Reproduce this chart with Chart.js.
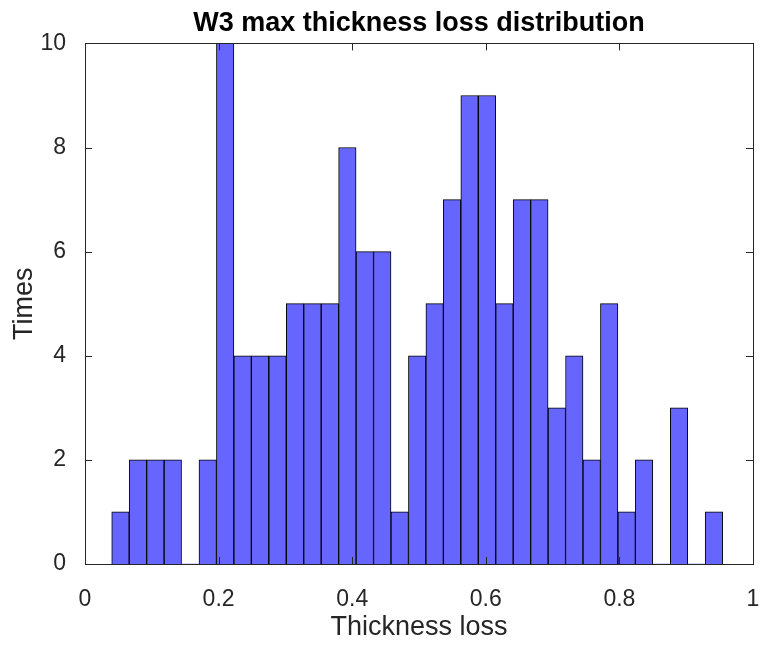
<!DOCTYPE html>
<html>
<head>
<meta charset="utf-8">
<script src="https://cdn.jsdelivr.net/npm/chart.js@4"></script>
<style>
  html, body { margin: 0; padding: 0; background: #fff; }
</style>
</head>
<body>
<canvas id="hist-chart" width="763" height="646"></canvas>
<script>
// histogram: 35 equal bins, counts
const binStart = 0.040;
const binWidth = 0.02613;
const binCounts = [1, 2, 2, 2, 0, 2, 10, 4, 4, 4, 5, 5, 5, 8, 6, 6, 1, 4, 5, 7, 9, 9, 5, 7, 7, 3, 4, 2, 5, 1, 2, 0, 3, 0, 1];
const xTicks = [0, 0.2, 0.4, 0.6, 0.8, 1];
const yTicks = [0, 2, 4, 6, 8, 10];

const axisColor = '#262626';

/**
 * Box round the axes plus MATLAB-style inward ticks on all four sides
 */
const matlabBox = {
    id: 'matlabBox',
    afterDatasetsDraw(chart) {
        const { ctx, chartArea: a, scales } = chart;
        const len = 7;
        ctx.save();
        ctx.strokeStyle = axisColor;
        ctx.lineWidth = 1;
        ctx.beginPath();
        xTicks.forEach((v) => {
            const px = Math.round(scales.x.getPixelForValue(v)) + 0.5;
            ctx.moveTo(px, a.bottom); ctx.lineTo(px, a.bottom - len);
            ctx.moveTo(px, a.top); ctx.lineTo(px, a.top + len);
        });
        yTicks.forEach((v) => {
            const py = Math.round(scales.y.getPixelForValue(v)) + 0.5;
            ctx.moveTo(a.left, py); ctx.lineTo(a.left + len, py);
            ctx.moveTo(a.right, py); ctx.lineTo(a.right - len, py);
        });
        ctx.stroke();
        ctx.strokeRect(Math.round(a.left) + 0.5, Math.round(a.top) + 0.5,
            Math.round(a.right - a.left), Math.round(a.bottom - a.top));
        ctx.restore();
    }
};

const data = {
    datasets: [{
        label: 'Times',
        data: binCounts.map((count, i) => ({ x: binStart + (i + 0.5) * binWidth, y: count })),
        backgroundColor: '#6666ff',
        borderColor: '#000',
        borderWidth: (c) => (c.raw && c.raw.y > 0 ? 1 : 0),
        borderSkipped: 'start',
        barPercentage: 1,
        categoryPercentage: 1,
    }]
};

const tickFont = { family: "'Liberation Sans', Arial, sans-serif", size: 23 };
const labelFont = { family: "'Liberation Sans', Arial, sans-serif", size: 27 };

new Chart(document.getElementById('hist-chart'), {
    type: 'bar',
    data: data,
    plugins: [matlabBox],
    options: {
        responsive: false,
        animation: false,
        layout: { padding: { right: 0, left: 0, top: 0, bottom: 0 } },
        plugins: {
            legend: { display: false },
            tooltip: { enabled: false },
            title: {
                display: true,
                fullSize: false,
                text: 'W3 max thickness loss distribution',
                color: '#000',
                font: { family: "'Liberation Sans', Arial, sans-serif", size: 27, weight: 'bold' },
                padding: { top: 7, bottom: 4 },
            },
        },
        scales: {
            x: {
                type: 'linear',
                min: 0,
                max: 1,
                offset: false,
                grid: { display: false, offset: false },
                border: { display: false },
                afterBuildTicks: (scale) => { scale.ticks = xTicks.map((v) => ({ value: v })); },
                ticks: { color: axisColor, font: tickFont, padding: 14, maxRotation: 0, callback: (v) => String(v) },
                title: { display: true, text: 'Thickness loss', color: axisColor, font: labelFont, padding: { top: 0, bottom: 2 } },
                afterFit: (scale) => {
                    scale.height = 82;
                    scale.paddingLeft = 0;
                    scale.paddingRight = 10;
                },
            },
            y: {
                type: 'linear',
                min: 0,
                max: 10,
                grid: { display: false },
                border: { display: false },
                afterBuildTicks: (scale) => { scale.ticks = yTicks.map((v) => ({ value: v })); },
                ticks: { color: axisColor, font: tickFont, padding: 11, callback: (v) => String(v) },
                title: { display: true, text: 'Times', color: axisColor, font: labelFont, padding: { top: 8, bottom: 0 } },
                afterFit: (scale) => { scale.width = 85; },
            },
        },
    },
});
</script>
</body>
</html>
